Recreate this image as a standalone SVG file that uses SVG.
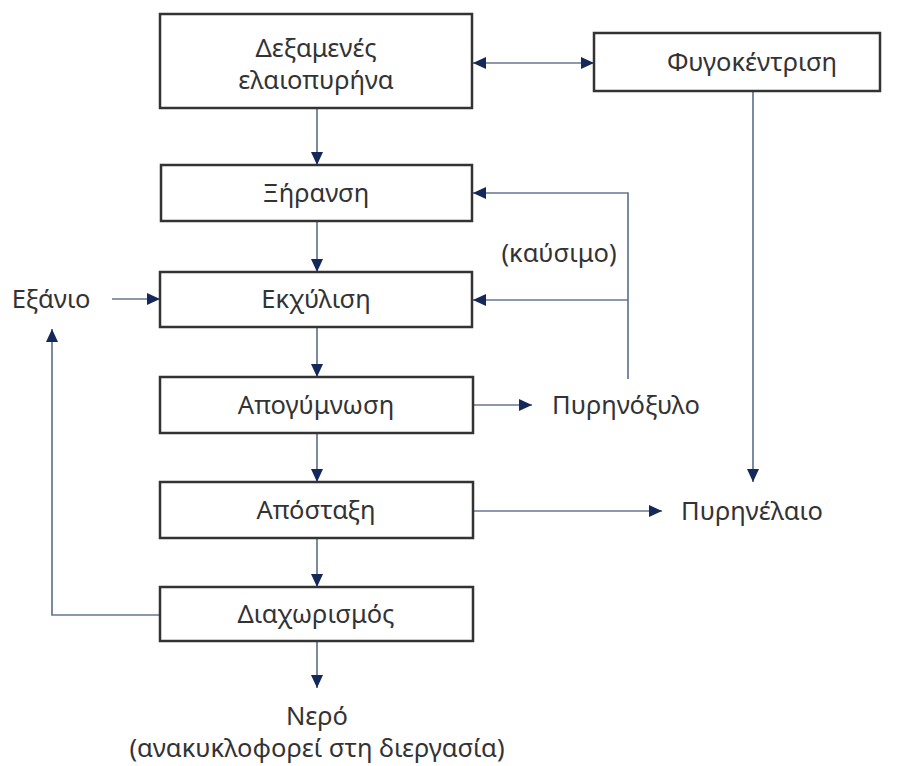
<svg xmlns="http://www.w3.org/2000/svg" width="900" height="766" viewBox="0 0 900 766">
<style>
.box{fill:#fff;stroke:#333;stroke-width:2.5}
.t{font-family:"Noto Sans","Open Sans",sans-serif;font-size:25.5px;fill:#333;text-anchor:middle}
.c{fill:none;stroke:#66768f;stroke-width:1.7}
</style>
<defs>
<marker id="ah" markerUnits="userSpaceOnUse" markerWidth="16" markerHeight="16" viewBox="0 0 16 16" refX="14" refY="8" orient="auto-start-reverse">
<path d="M1,2 L14,8 L1,14 Z" fill="#15285a"/>
</marker>
</defs>
<rect width="900" height="766" fill="#fff"/>
<g id="connectors">
<line class="c" x1="473" y1="63" x2="594" y2="63" marker-start="url(#ah)" marker-end="url(#ah)"/>
<line class="c" x1="317" y1="108" x2="317" y2="165" marker-end="url(#ah)"/>
<line class="c" x1="317" y1="221" x2="317" y2="272" marker-end="url(#ah)"/>
<line class="c" x1="317" y1="327" x2="317" y2="377" marker-end="url(#ah)"/>
<line class="c" x1="317" y1="433" x2="317" y2="482" marker-end="url(#ah)"/>
<line class="c" x1="317" y1="538" x2="317" y2="587" marker-end="url(#ah)"/>
<line class="c" x1="317" y1="641" x2="317" y2="688" marker-end="url(#ah)"/>
<line class="c" x1="112" y1="299" x2="160" y2="299" marker-end="url(#ah)"/>
<polyline class="c" points="628,379 628,193 473,193" marker-end="url(#ah)"/>
<line class="c" x1="628" y1="300" x2="473" y2="300" marker-end="url(#ah)"/>
<line class="c" x1="473" y1="405" x2="532" y2="405" marker-end="url(#ah)"/>
<line class="c" x1="473" y1="511" x2="662" y2="511" marker-end="url(#ah)"/>
<line class="c" x1="753" y1="91" x2="753" y2="482" marker-end="url(#ah)"/>
<polyline class="c" points="160,615 52,615 52,329" marker-end="url(#ah)"/>
</g>
<g id="dexamenes">
<rect class="box" x="160" y="14" width="312" height="94"/>
<text class="t" x="316" y="57">Δεξαμενές</text>
<text class="t" x="316" y="89">ελαιοπυρήνα</text>
</g>
<g id="fygokentrisi">
<rect class="box" x="594" y="33" width="286" height="58"/>
<text class="t" x="752" y="71">Φυγοκέντριση</text>
</g>
<g id="xiransi">
<rect class="box" x="161" y="165" width="311" height="56"/>
<text class="t" x="316" y="202">Ξήρανση</text>
</g>
<g id="ekxylisi">
<rect class="box" x="160" y="272" width="312" height="55"/>
<text class="t" x="316" y="308">Εκχύλιση</text>
</g>
<g id="apogymnosi">
<rect class="box" x="160" y="377" width="313" height="56"/>
<text class="t" x="316" y="414">Απογύμνωση</text>
</g>
<g id="apostaxi">
<rect class="box" x="160" y="482" width="313" height="56"/>
<text class="t" x="316" y="519">Απόσταξη</text>
</g>
<g id="diaxorismos">
<rect class="box" x="160" y="587" width="313" height="54"/>
<text class="t" x="316" y="623">Διαχωρισμός</text>
</g>
<g id="exanio"><text class="t" x="51" y="308">Εξάνιο</text></g>
<g id="kafsimo"><text class="t" x="559" y="262">(καύσιμο)</text></g>
<g id="pyrinoxylo"><text class="t" x="626" y="414">Πυρηνόξυλο</text></g>
<g id="pyrinelaio"><text class="t" x="752" y="520">Πυρηνέλαιο</text></g>
<g id="nero">
<text class="t" x="317" y="725">Νερό</text>
<text class="t" x="317" y="757">(ανακυκλοφορεί στη διεργασία)</text>
</g>
</svg>
